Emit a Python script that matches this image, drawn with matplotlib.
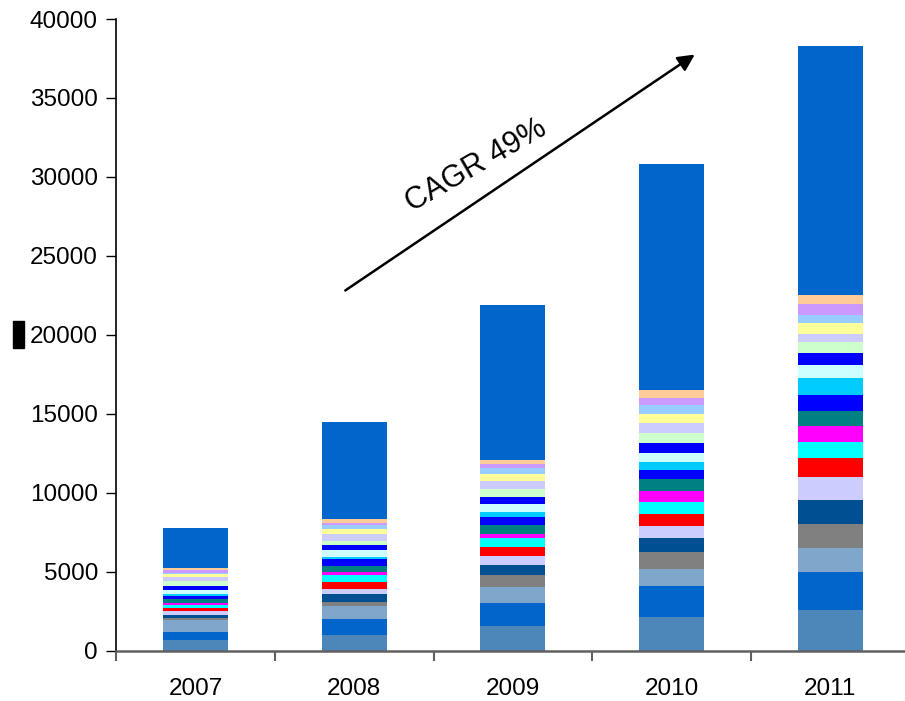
import matplotlib
matplotlib.use('Agg')
import matplotlib.pyplot as plt
import numpy as np
from matplotlib.patches import Rectangle

plt.rcParams['font.family'] = ['Liberation Sans', 'DejaVu Sans']

years = ['2007', '2008', '2009', '2010', '2011']

# segment values from bottom to top, one list per year
v2007 = [665, 507, 760, 127, 190, 253, 190, 190, 127, 253, 190, 127, 253, 253, 317, 253, 190, 64, 190, 127, 2533]
v2008 = [982, 1013, 824, 253, 507, 316, 444, 443, 190, 380, 444, 126, 444, 316, 254, 443, 317, 253, 127, 253, 6144]
v2009 = [1552, 1457, 1013, 760, 634, 570, 570, 570, 253, 570, 507, 317, 506, 444, 506, 507, 444, 380, 253, 253, 9818]
v2010 = [2122, 1963, 1077, 1077, 887, 760, 760, 760, 697, 760, 570, 507, 570, 633, 633, 634, 570, 570, 443, 507, 14315]
v2011 = [2565, 2407, 1520, 1520, 1521, 1457, 1203, 1013, 1033, 931, 1013, 1077, 805, 779, 696, 507, 678, 506, 716, 570, 15772]

colors = ['#4D86B8', '#0066CC', '#7FA7CB', '#808080', '#004F93', '#CCCCFF', '#FF0000',
          '#00FFFF', '#FF00FF', '#008080', '#0000FF', '#00CCFF', '#CCFFFF', '#0000FF',
          '#CCFFCC', '#CCCCFF', '#FFFF99', '#99CCFF', '#CC99FF', '#FFCC99', '#0066CC']

data = np.array([v2007, v2008, v2009, v2010, v2011]).T
x = np.arange(len(years)) + 0.5

fig = plt.figure(figsize=(9.05, 7.01), dpi=100)
ax = fig.add_axes([116 / 905, 50.5 / 701, 5 * 158.75 / 905, 631.5 / 701])

bottom = np.zeros(len(years))
for seg, c in zip(data, colors):
    ax.bar(x, seg, width=0.41, bottom=bottom, color=c, linewidth=0)
    bottom += seg

ax.set_xlim(0, 5)
ax.set_ylim(0, 40000)
ax.set_yticks(np.arange(0, 40001, 5000))
ax.set_yticklabels([str(v) for v in range(0, 40001, 5000)], fontsize=17.5)
ax.set_xticks(np.arange(0, 6))
ax.set_xticklabels([])
ax.set_xticks(x, minor=True)
ax.set_xticklabels(years, minor=True, fontsize=17.5)
ax.tick_params(axis='x', which='minor', length=0, pad=20)
ax.tick_params(axis='x', which='major', length=7, width=1.5, color='#606060', direction='out')
ax.tick_params(axis='y', length=7, width=1, color='black', direction='out', pad=6)

for s in ['top', 'right']:
    ax.spines[s].set_visible(False)
ax.spines['bottom'].set_color('#606060')
ax.spines['bottom'].set_linewidth(1.8)
ax.spines['left'].set_color('black')
ax.spines['left'].set_linewidth(1.2)

ax.annotate('', xy=(3.66, 37846), xytext=(1.43, 22708),
            arrowprops=dict(arrowstyle='-|>,head_length=1.0,head_width=0.5', color='black', lw=1.8))
ax.text(2.27, 30700, 'CAGR 49%', fontsize=22, rotation=30, ha='center', va='center')

fig.patches.append(Rectangle((12.5 / 905, (701 - 348) / 701), 11 / 905, 27 / 701,
                             transform=fig.transFigure, color='black'))

fig.savefig('out.png', dpi=100)
